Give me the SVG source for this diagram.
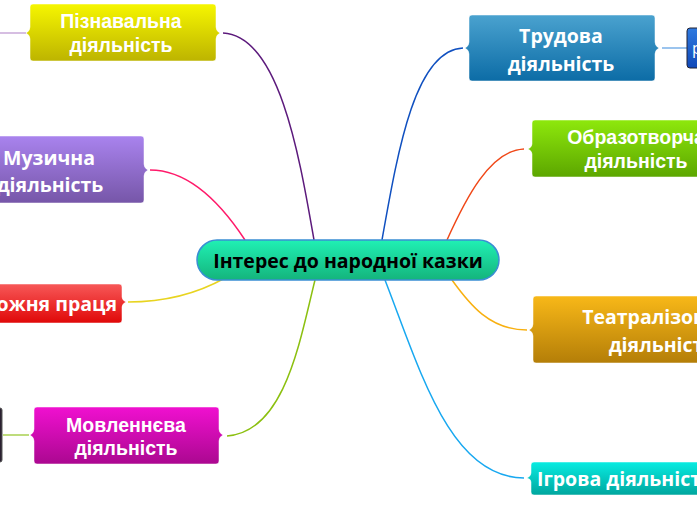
<svg xmlns="http://www.w3.org/2000/svg" width="697" height="520" viewBox="0 0 697 520">
<defs>
<linearGradient id="gY" x1="0" y1="0" x2="0" y2="1"><stop offset="0" stop-color="#f6f600"/><stop offset="1" stop-color="#bdb400"/></linearGradient>
<linearGradient id="gP" x1="0" y1="0" x2="0" y2="1"><stop offset="0" stop-color="#a983ee"/><stop offset="1" stop-color="#7656a8"/></linearGradient>
<linearGradient id="gR" x1="0" y1="0" x2="0" y2="1"><stop offset="0" stop-color="#f75858"/><stop offset="1" stop-color="#e00808"/></linearGradient>
<linearGradient id="gM" x1="0" y1="0" x2="0" y2="1"><stop offset="0" stop-color="#f010d0"/><stop offset="1" stop-color="#ab0890"/></linearGradient>
<linearGradient id="gB" x1="0" y1="0" x2="0" y2="1"><stop offset="0" stop-color="#4aa2cf"/><stop offset="1" stop-color="#0c6ca6"/></linearGradient>
<linearGradient id="gB2" x1="0" y1="0" x2="0" y2="1"><stop offset="0" stop-color="#2f7ae0"/><stop offset="1" stop-color="#1048b8"/></linearGradient>
<linearGradient id="gG" x1="0" y1="0" x2="0" y2="1"><stop offset="0" stop-color="#8ee80c"/><stop offset="1" stop-color="#5ca600"/></linearGradient>
<linearGradient id="gO" x1="0" y1="0" x2="0" y2="1"><stop offset="0" stop-color="#f8b818"/><stop offset="1" stop-color="#b47e08"/></linearGradient>
<linearGradient id="gC" x1="0" y1="0" x2="0" y2="1"><stop offset="0" stop-color="#08ece2"/><stop offset="1" stop-color="#00a69e"/></linearGradient>
<linearGradient id="gT" x1="0" y1="0" x2="0" y2="1"><stop offset="0" stop-color="#20f0b4"/><stop offset="1" stop-color="#14b47c"/></linearGradient>
</defs>
<style>
.box{stroke:#ffffff;stroke-opacity:0.5;stroke-width:1}
.ta{font-family:"Liberation Sans",Arial,sans-serif;font-weight:bold;font-size:19.5px;fill:#fff;text-anchor:middle}
.to{font-family:"Open Sans","Noto Sans",sans-serif;font-weight:bold;font-size:19.5px;fill:#fff;text-anchor:middle}
.c{fill:none;stroke-width:1.5}
</style>
<g id="connectors">
<path class="c" stroke="#5c1a7c" d="M223,33 C280,36 300,160 314,240"/>
<path class="c" stroke="#ff1a6a" d="M150,170 C190,170 222,205 245,240"/>
<path class="c" stroke="#e8d420" d="M128,302 C170,302 200,292 225,278"/>
<path class="c" stroke="#8cc010" d="M227,436 C285,432 300,340 315,280"/>
<path class="c" stroke="#1050c0" d="M463,48 C415,50 398,150 382,240"/>
<path class="c" stroke="#f04818" d="M524,149 C490,150 465,200 447,240"/>
<path class="c" stroke="#f8b010" d="M527,330 C490,330 470,305 452,280"/>
<path class="c" stroke="#18a8f0" d="M524,478 C450,478 420,370 385,280"/>
<path class="c" stroke="#c8a8d8" d="M0,33 L26,33"/>
<path class="c" stroke="#a8d050" d="M3,435 L29,435"/>
<path class="c" stroke="#7ab0e8" d="M662,48 L687,48"/>
</g>
<g id="n-center">
<rect x="197" y="240" width="302" height="40" rx="20" fill="url(#gT)" stroke="#3a8ed4" stroke-width="1.5"/>
<text x="348" y="268" font-family="'Open Sans','Noto Sans',sans-serif" font-weight="bold" font-size="19.5" fill="#000" text-anchor="middle">Інтерес до народної казки</text>
</g>
<g id="n-piznavalna">
<path class="box" fill="url(#gY)" d="M33,4 H213 Q216,4 216,7 V27 Q216,31 220,33 Q216,35 216,39 V58 Q216,61 213,61 H33 Q30,61 30,58 V39 Q30,35 26,33 Q30,31 30,27 V7 Q30,4 33,4 Z"/>
<text class="ta" x="121" y="28">Пізнавальна</text>
<text class="ta" x="121" y="52">діяльність</text>
</g>
<g id="n-muzychna">
<path class="box" fill="url(#gP)" d="M-10,136 H141 Q144,136 144,139 V164 Q144,168 148,170 Q144,172 144,176 V200 Q144,203 141,203 H-10 Z"/>
<text class="to" x="49" y="165">Музична</text>
<text class="to" x="50" y="192">діяльність</text>
</g>
<g id="n-pratsia">
<path class="box" fill="url(#gR)" d="M-10,284 H119 Q122,284 122,287 V297 Q122,300 126,302 Q122,304 122,307 V320 Q122,323 119,323 H-10 Z"/>
<text class="to" x="117" y="311" style="text-anchor:end">ожня праця</text>
</g>
<g id="n-movlennieva">
<path class="box" fill="url(#gM)" d="M37,407 H216 Q219,407 219,410 V429 Q219,433 223,435 Q219,437 219,441 V461 Q219,464 216,464 H37 Q34,464 34,461 V441 Q34,437 30,435 Q34,433 34,429 V410 Q34,407 37,407 Z"/>
<text class="ta" x="126" y="432">Мовленнєва</text>
<text class="ta" x="126" y="455">діяльність</text>
</g>
<g id="n-left-edge">
<rect x="-10" y="408" width="12" height="54" rx="2" fill="#2a2030" stroke="#555" stroke-width="1"/>
</g>
<g id="n-trudova">
<path class="box" fill="url(#gB)" d="M472,15 H652 Q655,15 655,18 V42 Q655,46 659,48 Q655,50 655,54 V78 Q655,81 652,81 H472 Q469,81 469,78 V54 Q469,50 465,48 Q469,46 469,42 V18 Q469,15 472,15 Z"/>
<text class="to" x="561" y="43">Трудова</text>
<text class="to" x="561" y="71">діяльність</text>
</g>
<g id="n-right-edge">
<rect x="687" y="28" width="20" height="40" rx="3" fill="url(#gB2)" stroke="#223" stroke-width="1"/>
<text x="692" y="54" font-family="'Open Sans',sans-serif" font-size="16" fill="#fff">р</text>
</g>
<g id="n-obrazotvorcha">
<path class="box" fill="url(#gG)" d="M535,120 H740 V177 H535 Q532,177 532,174 V154 Q532,151 528,149 Q532,147 532,144 V123 Q532,120 535,120 Z"/>
<text class="ta" x="636" y="144">Образотворча</text>
<text class="ta" x="636" y="168">діяльність</text>
</g>
<g id="n-teatralizovana">
<path class="box" fill="url(#gO)" d="M536,296 H760 V363 H536 Q533,363 533,360 V336 Q533,332 529,330 Q533,328 533,324 V299 Q533,296 536,296 Z"/>
<text class="to" x="662" y="324">Театралізована</text>
<text class="to" x="662" y="352">діяльність</text>
</g>
<g id="n-ihrova">
<path class="box" fill="url(#gC)" d="M534,462 H760 V495 H534 Q531,495 531,492 V482 Q531,479 527,478 Q531,476 531,473 V465 Q531,462 534,462 Z"/>
<text class="to" x="537" y="486" style="text-anchor:start">Ігрова діяльність</text>
</g>
</svg>
